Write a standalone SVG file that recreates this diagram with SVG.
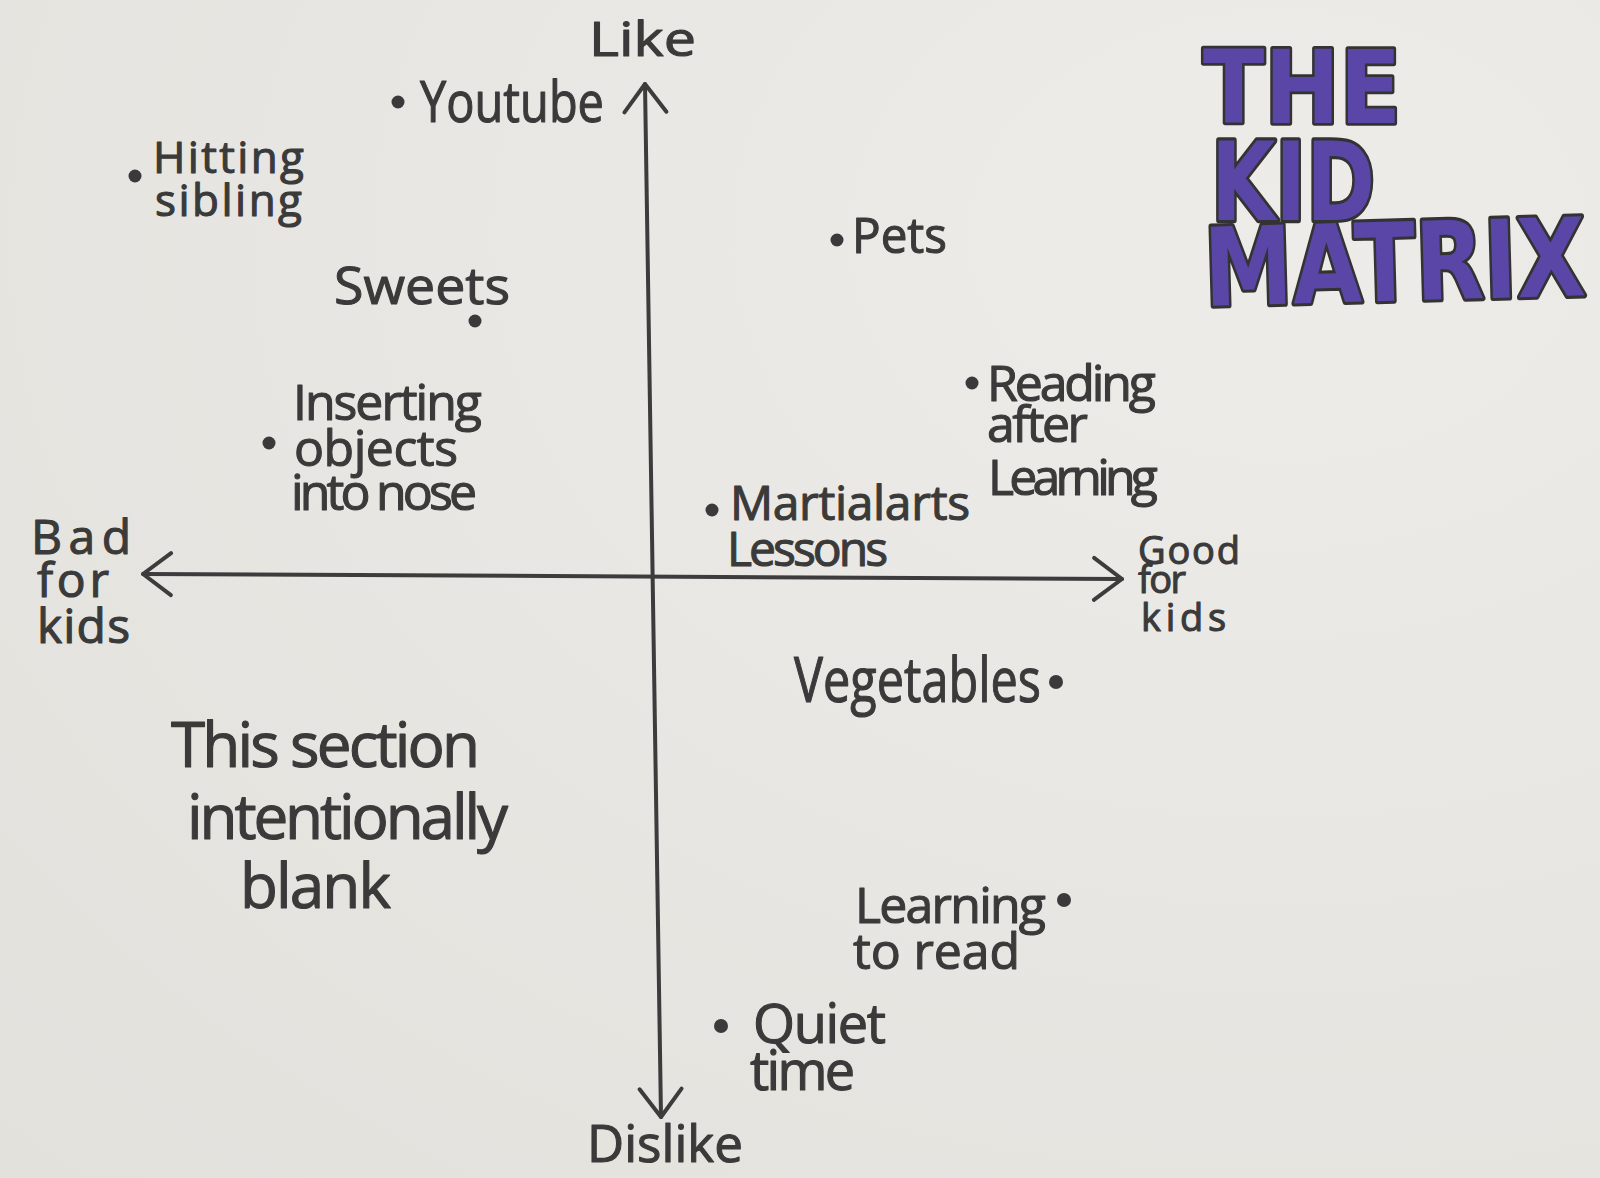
<svg xmlns="http://www.w3.org/2000/svg" width="1600" height="1178" viewBox="0 0 1600 1178">
  <defs>
    <radialGradient id="paper" cx="0.8" cy="0.2" r="1.1">
      <stop offset="0" stop-color="#edece9"/>
      <stop offset="1" stop-color="#e3e1dc"/>
    </radialGradient>
    <marker id="chev" viewBox="-36 -28 42 56" refX="0" refY="0" markerWidth="42" markerHeight="56" markerUnits="userSpaceOnUse" orient="auto-start-reverse" overflow="visible">
      <path d="M -28 -21 L 0 0 L -28 21" fill="none" stroke="#3c3c3c" stroke-width="4" stroke-linecap="round" stroke-linejoin="round"/>
    </marker>
    <style>
      .hw { font-family: "Open Sans", "Noto Sans", "DejaVu Sans", sans-serif; fill: #3a3a3a; stroke: #3a3a3a; stroke-width: 1.1; stroke-linejoin: round; }
      .dot { fill: #3a3a3a; }
      .axis { stroke: #3c3c3c; stroke-width: 4; fill: none; stroke-linecap: round; }
      .title { font-family: "DejaVu Sans", "Liberation Sans", sans-serif; font-weight: bold; fill: #5a46a6; stroke: #333333; stroke-width: 5; paint-order: stroke; stroke-linejoin: round; }
    </style>
  </defs>

  <rect x="0" y="0" width="1600" height="1178" fill="url(#paper)"/>

  <g id="connectors">
    <path class="axis" d="M 661 1117 L 645 84" marker-start="url(#chev)" marker-end="url(#chev)"/>
    <path class="axis" d="M 143 574 L 1122 579" marker-start="url(#chev)" marker-end="url(#chev)"/>
  </g>

  <g id="title">
    <text class="title" x="0" y="0" font-size="90" transform="translate(1203 123) scale(1 1.12)">THE</text>
    <text class="title" x="0" y="0" font-size="83" transform="translate(1211 220) scale(1 1.3)">KID</text>
    <text class="title" x="0" y="0" font-size="89" transform="translate(1205 306) rotate(-1.6) scale(1 1.22)">MATRIX</text>
  </g>

  <g id="axis-labels">
    <text class="hw" x="589" y="56" font-size="48" textLength="107" lengthAdjust="spacingAndGlyphs">Like</text>
    <text class="hw" x="587" y="1162" font-size="52" textLength="156" lengthAdjust="spacingAndGlyphs">Dislike</text>
    <text class="hw" font-size="48" lengthAdjust="spacingAndGlyphs">
      <tspan x="31" y="554" textLength="100">Bad</tspan>
      <tspan x="37" y="597" textLength="72">for</tspan>
      <tspan x="37" y="643" textLength="93">kids</tspan>
    </text>
    <text class="hw" font-size="38" lengthAdjust="spacingAndGlyphs">
      <tspan x="1138" y="564" textLength="102">Good</tspan>
      <tspan x="1138" y="593" textLength="48">for</tspan>
      <tspan x="1141" y="631" textLength="85">kids</tspan>
    </text>
  </g>

  <g id="node-youtube">
    <circle class="dot" cx="398" cy="102" r="6.5"/>
    <text class="hw" x="420" y="122" font-size="56" textLength="184" lengthAdjust="spacingAndGlyphs">Youtube</text>
  </g>

  <g id="node-hitting-sibling">
    <circle class="dot" cx="135" cy="176" r="6.5"/>
    <text class="hw" font-size="44" lengthAdjust="spacingAndGlyphs">
      <tspan x="153" y="173" textLength="151">Hitting</tspan>
      <tspan x="155" y="216" textLength="147">sibling</tspan>
    </text>
  </g>

  <g id="node-sweets">
    <circle class="dot" cx="475" cy="321" r="6.5"/>
    <text class="hw" x="334" y="304" font-size="52" textLength="176" lengthAdjust="spacingAndGlyphs">Sweets</text>
  </g>

  <g id="node-inserting">
    <circle class="dot" cx="269" cy="443" r="6.5"/>
    <text class="hw" font-size="50" lengthAdjust="spacingAndGlyphs">
      <tspan x="293" y="420" textLength="189">Inserting</tspan>
      <tspan x="294" y="466" textLength="164">objects</tspan>
      <tspan x="291" y="510" textLength="186">into nose</tspan>
    </text>
  </g>

  <g id="node-pets">
    <circle class="dot" cx="837" cy="240" r="6.5"/>
    <text class="hw" x="852" y="253" font-size="50" textLength="95" lengthAdjust="spacingAndGlyphs">Pets</text>
  </g>

  <g id="node-reading">
    <circle class="dot" cx="972" cy="383" r="6.5"/>
    <text class="hw" font-size="50" lengthAdjust="spacingAndGlyphs">
      <tspan x="987" y="401" textLength="169">Reading</tspan>
      <tspan x="987" y="442" textLength="101">after</tspan>
      <tspan x="988" y="495" textLength="170">Learning</tspan>
    </text>
  </g>

  <g id="node-martial-arts">
    <circle class="dot" cx="712" cy="510" r="6.5"/>
    <text class="hw" font-size="48" lengthAdjust="spacingAndGlyphs">
      <tspan x="730" y="520" textLength="240">Martialarts</tspan>
      <tspan x="727" y="566" textLength="161">Lessons</tspan>
    </text>
  </g>

  <g id="node-vegetables">
    <circle class="dot" cx="1056" cy="682" r="7"/>
    <text class="hw" x="794" y="702" font-size="62" textLength="247" lengthAdjust="spacingAndGlyphs">Vegetables</text>
  </g>

  <g id="note-blank">
    <text class="hw" font-size="62" lengthAdjust="spacingAndGlyphs">
      <tspan x="171" y="767" textLength="309">This section</tspan>
      <tspan x="187" y="839" textLength="321">intentionally</tspan>
      <tspan x="240" y="908" textLength="151">blank</tspan>
    </text>
  </g>

  <g id="node-learning-to-read">
    <circle class="dot" cx="1064" cy="900" r="7"/>
    <text class="hw" font-size="50" lengthAdjust="spacingAndGlyphs">
      <tspan x="855" y="923" textLength="191">Learning</tspan>
      <tspan x="853" y="969" textLength="167">to read</tspan>
    </text>
  </g>

  <g id="node-quiet-time">
    <circle class="dot" cx="721" cy="1026" r="7"/>
    <text class="hw" font-size="54" lengthAdjust="spacingAndGlyphs">
      <tspan x="753" y="1043" textLength="133">Quiet</tspan>
      <tspan x="750" y="1090" textLength="105">time</tspan>
    </text>
  </g>
</svg>
